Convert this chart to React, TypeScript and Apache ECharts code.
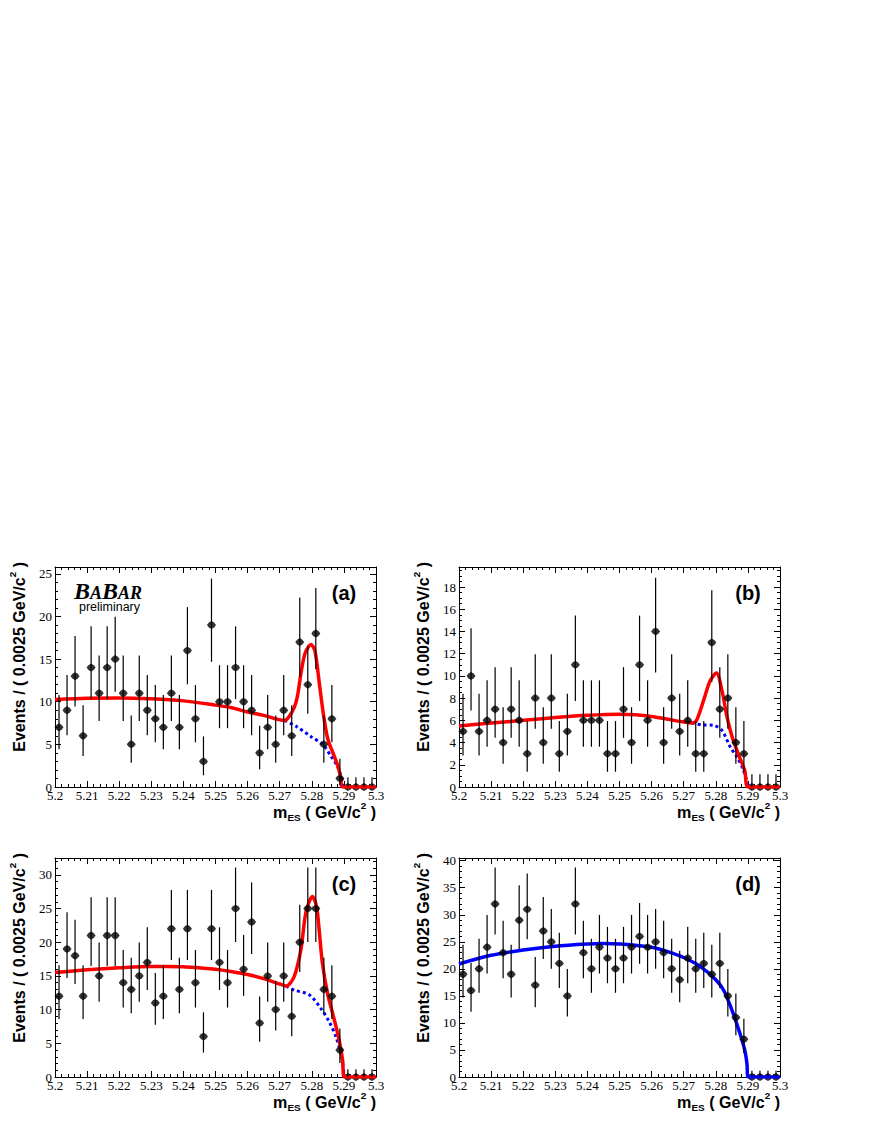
import React, { useEffect, useRef } from "react";
import * as echarts from "echarts";

// ---------- data ----------
const X_MIN = 5.2;
const X_MAX = 5.3;
const BIN_WIDTH = 0.0025;

const countsA = [7, 9, 13, 6, 14, 11, 14, 15, 11, 5, 11, 9, 8, 7, 11, 7, 16, 8, 3, 19, 10, 10, 14, 10, 9, 4, 7, 5, 9, 6, 17, 12, 18, 5, 8, 1, 0, 0, 0, 0];
const countsB = [5, 10, 5, 6, 7, 4, 7, 6, 3, 8, 4, 8, 3, 5, 11, 6, 6, 6, 3, 3, 7, 4, 11, 6, 14, 4, 8, 5, 6, 3, 3, 13, 7, 8, 4, 3, 0, 0, 0, 0];
const countsC = [12, 19, 18, 12, 21, 15, 21, 21, 14, 13, 15, 17, 11, 12, 22, 13, 22, 14, 6, 22, 17, 14, 25, 16, 23, 8, 15, 10, 15, 9, 20, 25, 25, 13, 12, 4, 0, 0, 0, 0];
const countsD = [19, 16, 20, 24, 32, 23, 19, 29, 31, 17, 27, 25, 21, 15, 32, 23, 20, 24, 22, 20, 22, 24, 26, 24, 25, 23, 20, 18, 22, 20, 21, 19, 21, 15, 11, 7, 0, 0, 0, 0];

const totalA: number[][] = [[5.2, 10.25], [5.21, 10.4], [5.22, 10.45], [5.23, 10.35], [5.24, 10.1], [5.25, 9.6], [5.255, 9.3], [5.26, 8.8], [5.265, 8.4], [5.2715, 7.8], [5.273, 8.3], [5.2745, 9.3], [5.2755, 10.6], [5.2767, 13.5], [5.278, 15.8], [5.2798, 16.7], [5.281, 15.9], [5.2824, 12], [5.2837, 8.3], [5.285, 5.6], [5.2865, 4.1], [5.288, 2.6], [5.289, 1.1], [5.2896, 0], [5.3, 0]];
const bkgA: number[][] = [[5.2715, 7.8], [5.2752, 7.1], [5.2798, 5.9], [5.2834, 5.0], [5.286, 3.6], [5.288, 2.4], [5.2894, 0.9], [5.2897, 0]];

const totalB: number[][] = [[5.2, 5.5], [5.21, 5.75], [5.22, 6.0], [5.23, 6.25], [5.24, 6.45], [5.25, 6.55], [5.255, 6.5], [5.26, 6.35], [5.265, 6.1], [5.27, 5.85], [5.2725, 5.75], [5.274, 6.0], [5.2762, 7.8], [5.2783, 9.6], [5.2802, 10.25], [5.2819, 8.7], [5.2835, 6.3], [5.2851, 4.5], [5.2871, 2.9], [5.289, 1.5], [5.2902, 0], [5.3, 0]];
const bkgB: number[][] = [[5.2725, 5.75], [5.2757, 5.6], [5.2793, 5.55], [5.2819, 5.1], [5.2845, 3.6], [5.2866, 2.7], [5.2885, 1.6], [5.2902, 0]];

const totalC: number[][] = [[5.2, 15.5], [5.21, 15.9], [5.22, 16.2], [5.23, 16.4], [5.235, 16.4], [5.24, 16.35], [5.25, 16.0], [5.26, 15.2], [5.265, 14.6], [5.27, 13.8], [5.272, 13.5], [5.2745, 14.9], [5.2766, 18.9], [5.2782, 24.5], [5.2802, 26.8], [5.2815, 25.2], [5.2823, 21.8], [5.2833, 16.9], [5.2849, 12.4], [5.287, 8.5], [5.2885, 5.5], [5.2896, 2.5], [5.2901, 0], [5.3, 0]];
const bkgC: number[][] = [[5.272, 13.5], [5.2745, 12.9], [5.2792, 12.2], [5.2828, 10.2], [5.2854, 8.2], [5.2875, 6.0], [5.2893, 3.0], [5.2901, 0]];

const totalD: number[][] = [[5.2, 20.9], [5.21, 22.5], [5.22, 23.5], [5.23, 24.2], [5.24, 24.6], [5.245, 24.7], [5.25, 24.6], [5.26, 24.0], [5.265, 23.2], [5.27, 22.1], [5.275, 20.5], [5.28, 18.0], [5.2825, 16.0], [5.285, 12.4], [5.2875, 8.1], [5.289, 5.0], [5.2897, 2.5], [5.2901, 0], [5.3, 0]];

const RED = "#ff0000";
const BLUE = "#0000ff";

const PANELS = [
  { label: "(a)", counts: countsA, total: totalA, bkg: bkgA, yMax: 25.8, major: 5, minor: 1, color: RED },
  { label: "(b)", counts: countsB, total: totalB, bkg: bkgB, yMax: 19.8, major: 2, minor: 0.5, color: RED },
  { label: "(c)", counts: countsC, total: totalC, bkg: bkgC, yMax: 32.5, major: 5, minor: 1, color: RED },
  { label: "(d)", counts: countsD, total: totalD, bkg: null as number[][] | null, yMax: 40.5, major: 5, minor: 1, color: BLUE },
];

// layout
const GRIDS = [
  { left: 55, top: 567, width: 321, height: 220 },
  { left: 459, top: 567, width: 321, height: 220 },
  { left: 55, top: 858, width: 321, height: 219 },
  { left: 459, top: 858, width: 321, height: 219 },
];

// Poisson 68% interval (Gehrels approximation), as drawn by RooFit
function poissonLow(n: number) {
  if (n <= 0) return 0;
  const s = 1 - 1 / (9 * n) - 1 / (3 * Math.sqrt(n));
  return n * s * s * s;
}
function poissonHigh(n: number) {
  if (n <= 0) return 1.148;
  return n + Math.sqrt(n + 0.75) + 1;
}
const binCenter = (k: number) => X_MIN + (k + 0.5) * BIN_WIDTH;

const MARKER = "path://M5,0 L8,2 L10,5 L8,8 L5,10 L2,8 L0,5 L2,2 Z";

// text measuring
let measureCtx: CanvasRenderingContext2D | null = null;
function textW(t: string, font: string) {
  if (!measureCtx) measureCtx = document.createElement("canvas").getContext("2d");
  measureCtx!.font = font;
  return measureCtx!.measureText(t).width;
}

type Piece = { t: string; rel: number; dy: number };
function layoutPieces(pieces: Piece[], base: number, family: string, weight: string, fstyle: string) {
  let x = 0;
  const children: any[] = [];
  for (const p of pieces) {
    const size = base * p.rel;
    const font = `${fstyle} ${weight} ${size}px ${family}`;
    children.push({
      type: "text",
      x,
      y: p.dy * base,
      style: {
        text: p.t,
        font,
        fill: "#000",
        textAlign: "left",
        textVerticalAlign: "middle",
        align: "left",
        verticalAlign: "middle",
      },
    });
    x += textW(p.t, font);
  }
  return { children, width: x };
}
function fitPieces(pieces: Piece[], target: number, family: string, weight: string, fstyle: string) {
  const w0 = layoutPieces(pieces, 14, family, weight, fstyle).width;
  const base = (14 * target) / w0;
  return layoutPieces(pieces, base, family, weight, fstyle);
}

const SANS = '"Liberation Sans", Arial, sans-serif';
const SERIF = '"Liberation Serif", "Times New Roman", serif';

function buildOption() {
  const grid: any[] = [];
  const xAxis: any[] = [];
  const yAxis: any[] = [];
  const series: any[] = [];
  const graphic: any[] = [];
  const ls = { color: "#000", width: 1 };

  const xTitle = fitPieces(
    [
      { t: "m", rel: 1, dy: 0 },
      { t: "ES", rel: 0.62, dy: 0.32 },
      { t: " ( GeV/c", rel: 1, dy: 0 },
      { t: "2", rel: 0.62, dy: -0.42 },
      { t: " )", rel: 1, dy: 0 },
    ],
    103,
    SANS,
    "bold",
    "normal"
  );
  const yTitle = fitPieces(
    [
      { t: "Events / ( 0.0025 GeV/c", rel: 1, dy: 0 },
      { t: "2", rel: 0.62, dy: -0.42 },
      { t: " )", rel: 1, dy: 0 },
    ],
    190,
    SANS,
    "bold",
    "normal"
  );

  PANELS.forEach((p, i) => {
    const g = GRIDS[i];
    grid.push({ left: g.left, top: g.top, width: g.width, height: g.height, show: false });

    const xBase = {
      type: "value",
      gridIndex: i,
      min: X_MIN,
      max: X_MAX,
      interval: 0.01,
      axisLine: { show: true, onZero: false, lineStyle: ls },
      axisTick: { show: true, inside: true, length: 6, lineStyle: ls },
      minorTick: { show: true, splitNumber: 5, length: 3, lineStyle: ls },
      splitLine: { show: false },
      minorSplitLine: { show: false },
    };
    xAxis.push({
      ...xBase,
      position: "bottom",
      axisLabel: {
        show: true,
        formatter: (v: number) => String(Math.round(v * 100) / 100),
        fontFamily: SERIF,
        fontSize: 13,
        color: "#000",
        margin: 2,
      },
    });
    xAxis.push({ ...xBase, position: "top", axisLabel: { show: false } });

    const yMinor = {
      type: "value",
      gridIndex: i,
      min: 0,
      max: p.yMax,
      interval: p.minor,
      axisLine: { show: true, onZero: false, lineStyle: ls },
      axisTick: { show: true, inside: true, length: 3, lineStyle: ls },
      splitLine: { show: false },
    };
    const yMajor = {
      ...yMinor,
      interval: p.major,
      axisLine: { show: false },
      axisTick: { show: true, inside: true, length: 6, lineStyle: ls },
      axisLabel: { show: false },
    };
    const major = p.major;
    yAxis.push({
      ...yMinor,
      position: "left",
      axisLabel: {
        show: true,
        formatter: (v: number) => {
          const r = v / major;
          return Math.abs(r - Math.round(r)) < 1e-6 ? String(Math.round(v)) : "";
        },
        fontFamily: SERIF,
        fontSize: 13,
        color: "#000",
        margin: 3,
      },
    });
    yAxis.push({ ...yMajor, position: "left" });
    yAxis.push({ ...yMinor, position: "right", axisLabel: { show: false } });
    yAxis.push({ ...yMajor, position: "right" });

    const xi = i * 2;
    const yi = i * 4;
    if (p.bkg) {
      series.push({
        type: "line",
        xAxisIndex: xi,
        yAxisIndex: yi,
        data: p.bkg,
        symbol: "none",
        smooth: 0.3,
        clip: true,
        lineStyle: { color: BLUE, width: 3, type: [3, 3] },
        z: 2,
        silent: true,
      });
    }
    series.push({
      type: "line",
      xAxisIndex: xi,
      yAxisIndex: yi,
      data: p.total,
      symbol: "none",
      smooth: 0.3,
      clip: true,
      lineStyle: { color: p.color, width: 3.5 },
      z: 3,
      silent: true,
    });
    series.push({
      type: "custom",
      xAxisIndex: xi,
      yAxisIndex: yi,
      data: p.counts.map((n, k) => [binCenter(k), poissonLow(n), poissonHigh(n)]),
      encode: { x: 0, y: [1, 2] },
      renderItem: (_params: any, api: any) => {
        const x = api.value(0);
        const a = api.coord([x, api.value(1)]);
        const b = api.coord([x, api.value(2)]);
        return {
          type: "line",
          shape: { x1: a[0], y1: a[1], x2: b[0], y2: b[1] },
          style: { stroke: "#000", lineWidth: 1.2 },
        };
      },
      z: 4,
      silent: true,
    });
    series.push({
      type: "scatter",
      xAxisIndex: xi,
      yAxisIndex: yi,
      data: p.counts.map((n, k) => [binCenter(k), n]).filter((d) => d[1] > 0),
      symbol: MARKER,
      symbolSize: [9, 8],
      itemStyle: { color: "#000" },
      z: 5,
      silent: true,
    });
    series.push({
      type: "scatter",
      xAxisIndex: xi,
      yAxisIndex: yi,
      data: p.counts.map((n, k) => [binCenter(k), n]).filter((d) => d[1] === 0),
      symbol: MARKER,
      symbolSize: [9, 8],
      itemStyle: { color: "#000" },
      z: 1,
      silent: true,
    });

    // titles
    const right = g.left + g.width;
    const bottom = g.top + g.height;
    graphic.push({
      type: "group",
      x: right - xTitle.width,
      y: bottom + 25,
      children: xTitle.children,
      silent: true,
    });
    graphic.push({
      type: "group",
      x: g.left - 36,
      y: g.top - 5 + yTitle.width,
      rotation: Math.PI / 2,
      children: yTitle.children,
      silent: true,
    });
    graphic.push({
      type: "text",
      x: g.left + g.width - 32,
      y: g.top + 26,
      style: {
        text: p.label,
        font: `bold 20px ${SANS}`,
        fill: "#000",
        textAlign: "center",
        textVerticalAlign: "middle",
        align: "center",
        verticalAlign: "middle",
      },
      silent: true,
    });
  });

  // BaBar logo on panel (a)
  const logo = fitPieces(
    [
      { t: "B", rel: 1, dy: 0 },
      { t: "A", rel: 0.75, dy: 0.09 },
      { t: "B", rel: 1, dy: 0 },
      { t: "A", rel: 0.75, dy: 0.09 },
      { t: "R", rel: 0.75, dy: 0.09 },
    ],
    68,
    SERIF,
    "bold",
    "italic"
  );
  graphic.push({ type: "group", x: 74, y: 591, children: logo.children, silent: true });
  const prelim = fitPieces([{ t: "preliminary", rel: 1, dy: 0 }], 61, SANS, "normal", "normal");
  graphic.push({ type: "group", x: 79, y: 606.5, children: prelim.children, silent: true });

  return {
    animation: false,
    backgroundColor: "#fff",
    grid,
    xAxis,
    yAxis,
    series,
    graphic,
  };
}

export default function App() {
  const ref = useRef<HTMLDivElement>(null);
  useEffect(() => {
    const chart = echarts.init(ref.current!, null, { renderer: "svg" });
    chart.setOption(buildOption() as any);
    return () => chart.dispose();
  }, []);
  return (
    <div
      ref={ref}
      style={{ position: "absolute", left: 0, top: 0, width: 872, height: 1128, background: "#fff" }}
    />
  );
}
